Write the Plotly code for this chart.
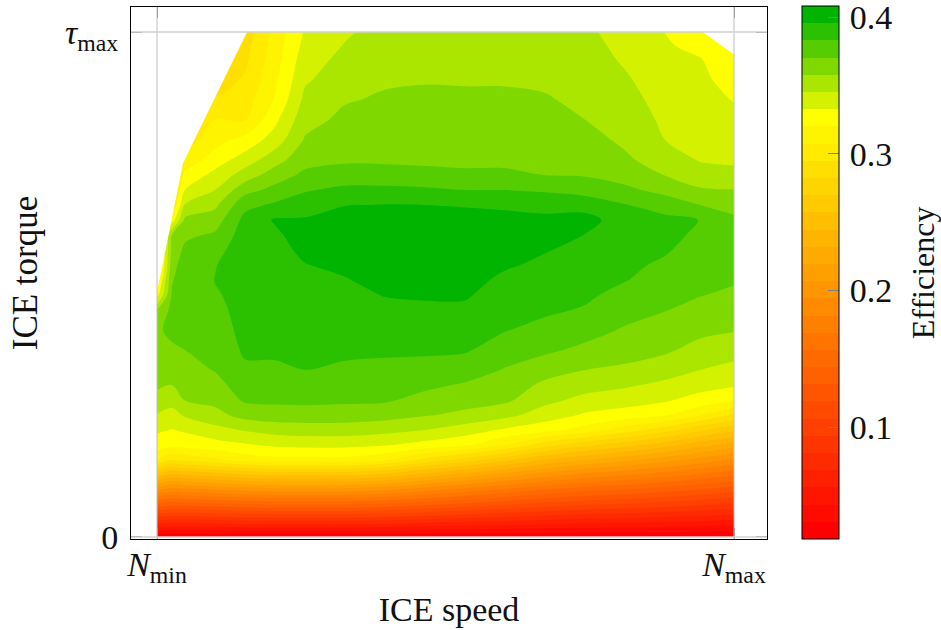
import plotly.graph_objects as go

FONT = "Liberation Serif"
# normalised ICE speed (Nmin = 0, Nmax = 1)
speed = [0, .026, .0485, .1005, .1525, .2045, .2565, .3258, .3951, .4645, .5338, .6031, .6724, .7418, .8111, .8804, .9411, 1]
# normalised ICE torque (0 .. tau_max = 1)
torque = [0, .0337, .0733, .1129, .1525, .1822, .2119, .2416, .2713, .3010, .3307, .3703, .4099, .4495, .4792, .5089,
          .5386, .5683, .5980, .6277, .6574, .6871, .7168, .7465, .7861, .8257, .8653, .9050, .9446, .9743, 1]

# efficiency read along each speed column, bottom to top (cells above the torque limit are hidden by the limit mask)
eff_s00 = [.018,.0822,.1576,.2331,.3086,.3262,.3345,.3445,.3535,.3598,.3640,.3694,.3690,.3577,.3275,.3136] + [.30]*15
eff_s01 = [.018,.0791,.1510,.2229,.2948,.3241,.3320,.3409,.3495,.3577,.3624,.3690,.3721,.3740,.3721,.3690,.3658,.3621,.3583,.3262,.3073] + [.30]*10
eff_s02 = [.018,.0796,.1526,.2256,.2985,.3250,.3341,.3467,.3582,.3618,.3655,.3702,.3746,.3778,.3797,.3790,.3765,.3728,.3677,.3602,.3463,.3325,.3231,.3111,.3011] + [.295]*6
eff_s03 = [.018,.0809,.1564,.2306,.3048,.3275,.3409,.3538,.3611,.3662,.3709,.3740,.3765,.3788,.3809,.3831,.3822,.3784,.3721,.3642,.3551,.3451,.3365,.3262,.3151,.3073,.2960,.2885] + [.285]*3
eff_s04 = [.018,.0834,.1589,.2356,.3124,.3309,.3461,.3622,.3720,.3763,.3806,.3847,.3866,.3879,.3891,.3897,.3904,.3904,.3891,.3866,.3792,.3657,.3507,.3388,.3241,.3066,.3016,.2965,.2922,.2897,.2872]
eff_s05 = [.018,.0834,.1614,.2382,.3161,.3346,.3499,.3645,.3728,.3773,.3816,.3841,.3866,.3891,.3891,.3897,.3904,.3916,.3929,.3967,.3848,.3740,.3642,.3526,.3385,.3296,.3212,.3174,.3149,.3130,.3117]
eff_s06 = [.018,.0834,.1614,.2382,.3161,.3359,.3514,.3648,.3731,.3780,.3828,.3847,.3866,.3891,.3916,.3935,.3950,.3979,.4017,.3967,.3894,.3816,.3728,.3662,.3589,.3533,.3482,.3434,.3394,.3363,.3338]
eff_s07 = [.018,.0834,.1614,.2382,.3161,.3359,.3514,.3643,.3725,.3768,.3811,.3848,.3876,.3904,.3926,.3947,.3979,.4017,.4042,.4017,.3950,.3858,.3754,.3686,.3647,.3607,.3567,.3526,.3487,.3457,.3432]
eff_s08 = [.018,.0822,.1576,.2331,.3086,.3335,.3490,.3627,.3719,.3759,.3799,.3847,.3887,.3929,.3958,.3992,.4017,.4042,.4055,.4030,.3958,.3861,.3744,.3686,.3655,.3623,.3592,.3562,.3536,.3517,.3501]
eff_s09 = [.018,.0784,.1501,.2205,.2910,.3280,.3451,.3587,.3662,.3729,.3787,.3847,.3890,.3933,.3967,.3998,.4023,.4042,.4061,.4036,.3954,.3850,.3728,.3685,.3656,.3627,.3598,.3570,.3545,.3526,.3514]
eff_s10 = [.018,.0746,.1425,.2092,.2759,.3221,.3388,.3548,.3627,.3690,.3760,.3842,.3886,.3931,.3967,.3992,.4017,.4036,.4055,.4030,.3939,.3828,.3718,.3684,.3655,.3624,.3595,.3568,.3545,.3526,.3514]
eff_s11 = [.018,.0715,.1344,.1973,.2602,.3073,.3306,.3489,.3602,.3647,.3694,.3765,.3834,.3872,.3901,.3931,.3967,.3998,.4023,.4011,.3923,.3828,.3718,.3684,.3653,.3624,.3594,.3568,.3545,.3526,.3514]
eff_s12 = [.018,.0683,.1262,.1853,.2432,.2872,.3244,.3392,.3486,.3551,.3628,.3726,.3794,.3847,.3876,.3904,.3933,.3960,.3992,.3985,.3910,.3813,.3701,.3677,.3647,.3617,.3586,.3559,.3535,.3516,.3501]
eff_s13 = [.018,.0645,.1199,.1753,.2319,.2734,.3149,.3309,.3416,.3501,.3577,.3674,.3750,.3818,.3848,.3875,.3901,.3926,.3951,.4011,.3891,.3787,.3692,.3661,.3618,.3577,.3554,.3530,.3507,.3490,.3476]
eff_s14 = [.018,.0633,.1161,.1690,.2218,.2621,.3011,.3271,.3379,.3468,.3554,.3627,.3690,.3749,.3793,.3834,.3853,.3879,.3891,.3872,.3834,.3728,.3656,.3597,.3555,.3526,.3496,.3467,.3436,.3417,.3399]
eff_s15 = [.018,.0608,.1111,.1614,.2117,.2495,.2872,.3217,.3341,.3423,.3505,.3597,.3652,.3707,.3740,.3775,.3809,.3841,.3866,.3860,.3773,.3665,.3573,.3520,.3451,.3427,.3404,.3380,.3356,.3339,.3324]
eff_s16 = [.018,.0583,.1061,.1539,.2017,.2369,.2721,.3086,.3278,.3373,.3451,.3535,.3607,.3666,.3707,.3734,.3759,.3778,.3803,.3826,.3702,.3592,.3499,.3443,.3421,.3399,.3377,.3355,.3333,.3287,.3237]
eff_s17 = [.018,.0557,.1010,.1463,.1916,.2256,.2595,.2935,.3224,.3340,.3412,.3502,.3586,.3640,.3681,.3715,.3740,.3759,.3765,.3728,.3655,.3582,.3484,.3432,.3394,.3356,.3319,.3275,.3237,.3212,.3199]
columns = [eff_s00, eff_s01, eff_s02, eff_s03, eff_s04, eff_s05, eff_s06, eff_s07, eff_s08, eff_s09,
           eff_s10, eff_s11, eff_s12, eff_s13, eff_s14, eff_s15, eff_s16, eff_s17]
efficiency = [list(row) for row in zip(*columns)]

# region above the torque limit (left and top-right corners)
limit_speed = [0, .045, .156, .156, 0, 0, None, .946, 1, 1, .946]
limit_torque = [.485, .74, 1, 1.001, 1.001, .485, None, 1, .955, 1.001, 1.001]

eff_min, eff_max, eff_step = .018, .408, .01258
cb_ticks = [.1, .2, .3, .4]
cb_labels = ["\u200a0.1", "\u200a0.2", "\u200a0.3", "\u200a0.4"]
x_ticks, x_labels = [0, 1], ["<i>N</i><sub>min</sub>", "<i>N</i><sub>max</sub>"]
y_ticks, y_labels = [0, 1], ["0", "<i>τ</i><sub>max</sub>"]
cb_y = -.0002

fig = go.Figure()
fig.add_trace(go.Contour(
    x=speed, y=torque, z=efficiency, zauto=False, zmin=eff_min, zmax=eff_max,
    contours=dict(start=eff_min, end=eff_max, size=eff_step, coloring="fill", showlines=False),
    line=dict(width=0),
    colorscale=[[0, "rgb(255,0,0)"], [.016, "rgb(255,0,0)"], [.79, "rgb(255,255,0)"],
                [.984, "rgb(0,180,0)"], [1, "rgb(0,180,0)"]],
    colorbar=dict(x=1.055, xanchor="left", y=cb_y, yanchor="bottom", thickness=37, thicknessmode="pixels",
                  len=533, lenmode="pixels", xpad=0, ypad=0, outlinecolor="black", outlinewidth=1,
                  tickvals=cb_ticks, ticktext=cb_labels, ticks="inside", ticklen=11, ticklabeloverflow="allow",
                  tickcolor="#808080", tickfont=dict(family=FONT, size=34, color="#111"))))
fig.add_trace(go.Scatter(x=limit_speed, y=limit_torque, mode="lines", line=dict(width=0),
                         fill="toself", fillcolor="white", hoverinfo="skip", showlegend=False))

axis = dict(showline=True, linecolor="black", linewidth=1, mirror="ticks", ticks="inside", ticklen=11,
            tickcolor="#808080", showgrid=False, zeroline=False, tickfont=dict(family=FONT, size=34, color="#111"))
fig.update_xaxes(axis, range=[-.0451, 1.0572], tickvals=x_ticks, ticktext=x_labels, ticklabelstandoff=-5,
                 title=dict(text="ICE speed", font=dict(family=FONT, size=34, color="#111"), standoff=10))
fig.update_yaxes(axis, range=[-.004, 1.0495], tickvals=y_ticks, ticktext=y_labels, ticklabelstandoff=5,
                 title=dict(text="ICE torque", font=dict(family=FONT, size=35, color="#111"), standoff=16))

shapes = [dict(type="line", xref="x", yref="paper", x0=v, x1=v, y0=0, y1=1, line=dict(color="#bdbdbd", width=1), layer="above") for v in x_ticks]
shapes += [dict(type="line", xref="paper", yref="y", x0=0, x1=1, y0=v, y1=v, line=dict(color="#d0d0d0", width=1.3), layer="above") for v in y_ticks]
# mirrored inner ticks on the left side of the colour bar
shapes += [dict(type="line", xref="paper", yref="paper", x0=1.055, x1=1.055 + 11 / 636,
                y0=cb_y + (v - eff_min) / (eff_max - eff_min) * 533 / 532,
                y1=cb_y + (v - eff_min) / (eff_max - eff_min) * 533 / 532,
                line=dict(color="#808080", width=1), layer="above") for v in cb_ticks]
fig.update_layout(width=941, height=630, margin=dict(l=131, r=174, t=7, b=91, autoexpand=False),
                  paper_bgcolor="white", plot_bgcolor="white", showlegend=False, shapes=shapes,
                  annotations=[dict(text="Efficiency", textangle=-90, xref="paper", yref="paper", x=1.277, y=.5,
                                    showarrow=False, font=dict(family=FONT, size=32, color="#111"))])
fig.write_html("out.html", config=dict(displayModeBar=False), post_script="document.body.style.margin='0';")
